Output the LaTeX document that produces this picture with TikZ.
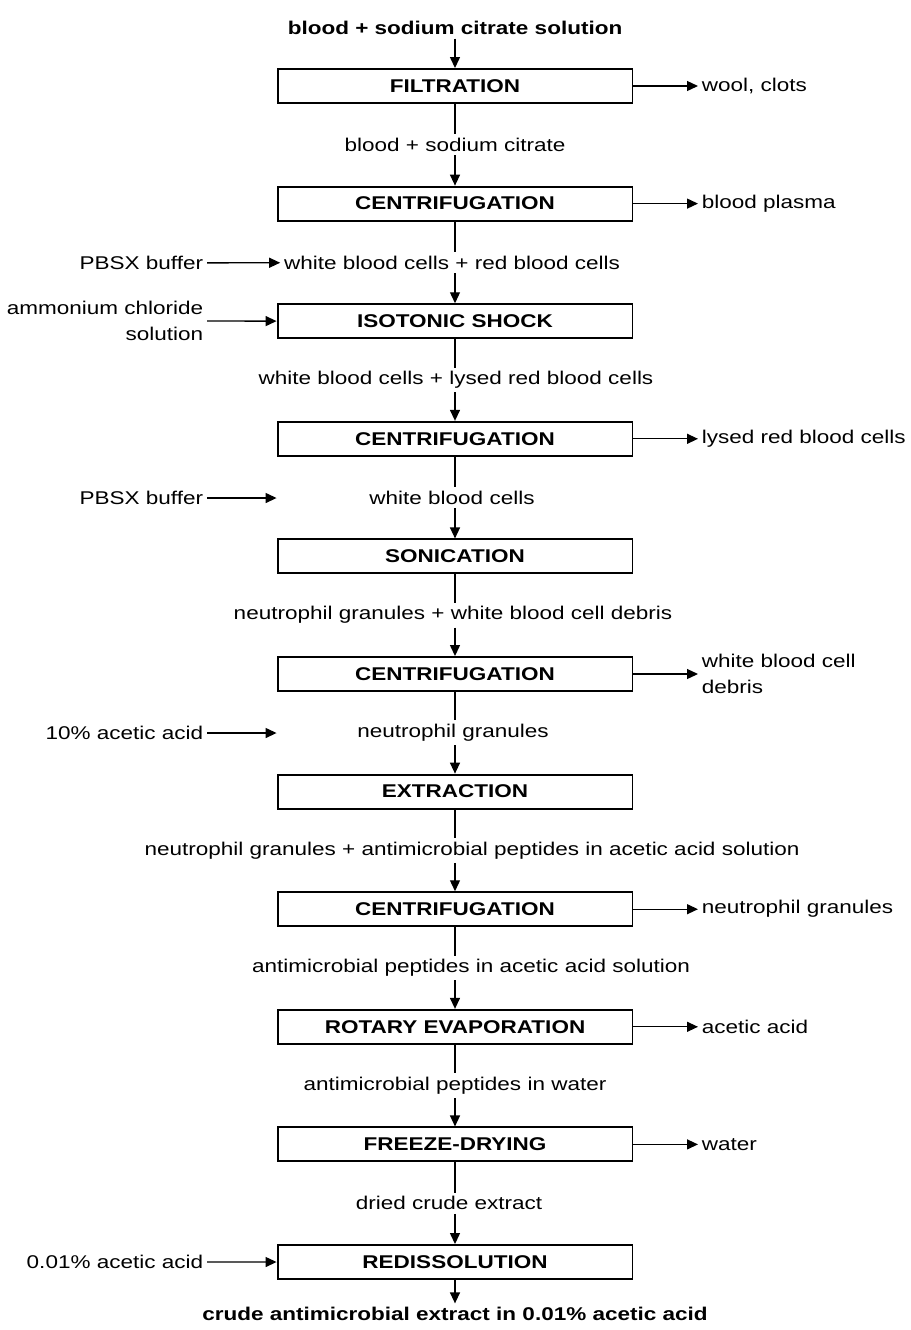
\documentclass[tikz,border=0pt]{standalone}
\usepackage{fontspec}
\setmainfont{Liberation Sans}[FakeStretch=1.22]
\usetikzlibrary{arrows.meta}

\begin{document}
\begin{tikzpicture}[
    x=0.02cm, y=-0.02cm,
    font=\fontsize{10.5}{15}\selectfont,
    stepbox/.style={rectangle, draw, line width=1.1pt, minimum width=7.1cm, minimum height=0.68cm, inner sep=0pt, font=\fontsize{10.5}{15}\selectfont\bfseries},
    lbl/.style={inner sep=2pt},
    endlbl/.style={inner sep=2pt, font=\fontsize{10.5}{15}\selectfont\bfseries},
    flow/.style={line width=0.75pt},
    arr/.style={flow, -{Triangle[length=0.22cm, width=0.2cm]}}
]
    \useasboundingbox (0,0) rectangle (911,1330);
    % process steps
    \foreach \s [count=\c from 0] in {FILTRATION, CENTRIFUGATION, ISOTONIC SHOCK, CENTRIFUGATION, SONICATION, CENTRIFUGATION, EXTRACTION, CENTRIFUGATION, ROTARY EVAPORATION, FREEZE-DRYING, REDISSOLUTION} {
        \node[stepbox] (s\c) at (455, 86+117.6*\c) {\s};
    }
    % intermediate streams
    \foreach \x/\t [count=\c from 1] in {455/blood + sodium citrate, 452/white blood cells + red blood cells, 456/white blood cells + lysed red blood cells, 452/white blood cells, 453/neutrophil granules + white blood cell debris, 453/neutrophil granules, 472/neutrophil granules + antimicrobial peptides in acetic acid solution, 471/antimicrobial peptides in acetic acid solution, 455/antimicrobial peptides in water, 449/dried crude extract} {
        \node[lbl] (m\c) at (\x, 27.2+117.6*\c) {\t};
    }
    \node[endlbl] (src) at (455, 28) {blood + sodium citrate solution};
    \node[endlbl] (prod) at (455, 1314) {crude antimicrobial extract in 0.01\% acetic acid};
    % main line
    \draw[arr] (src) -- (s0);
    \foreach \c [remember=\c as \p (initially 0)] in {1,...,10} {
        \draw[flow] (s\p.south) -- (s\p.south |- m\c.north);
        \draw[arr] (s\c.north |- m\c.south) -- (s\c.north);
    }
    \draw[arr] (s10) -- (prod);
    % inputs
    \node[lbl, anchor=east] (in2) at (207, 263) {PBSX buffer};
    \node[lbl, anchor=east, align=right] (in3) at (207, 321) {ammonium chloride\\solution};
    \node[lbl, anchor=east] (in5) at (207, 498) {PBSX buffer};
    \node[lbl, anchor=east] (in7) at (207, 733) {10\% acetic acid};
    \node[lbl, anchor=east] (in11) at (207, 1262) {0.01\% acetic acid};
    \coordinate (e5) at (s4.west |- in5);
    \coordinate (e7) at (s6.west |- in7);
    \draw[arr] (in2) -- (m2);
    \draw[arr] (in3) -- (s2);
    \draw[arr] (in5) -- (e5);
    \draw[arr] (in7) -- (e7);
    \draw[arr] (in11) -- (s10);
    % outputs
    \foreach \c/\t in {0/{wool, clots}, 1/blood plasma, 3/lysed red blood cells, 5/{white blood cell\\debris}, 7/neutrophil granules, 8/acetic acid, 9/water} {
        \node[lbl, anchor=west, align=left] (o\c) at (698, 86+117.6*\c) {\t};
        \draw[arr] (s\c.east) -- (o\c.west);
    }
\end{tikzpicture}
\end{document}
